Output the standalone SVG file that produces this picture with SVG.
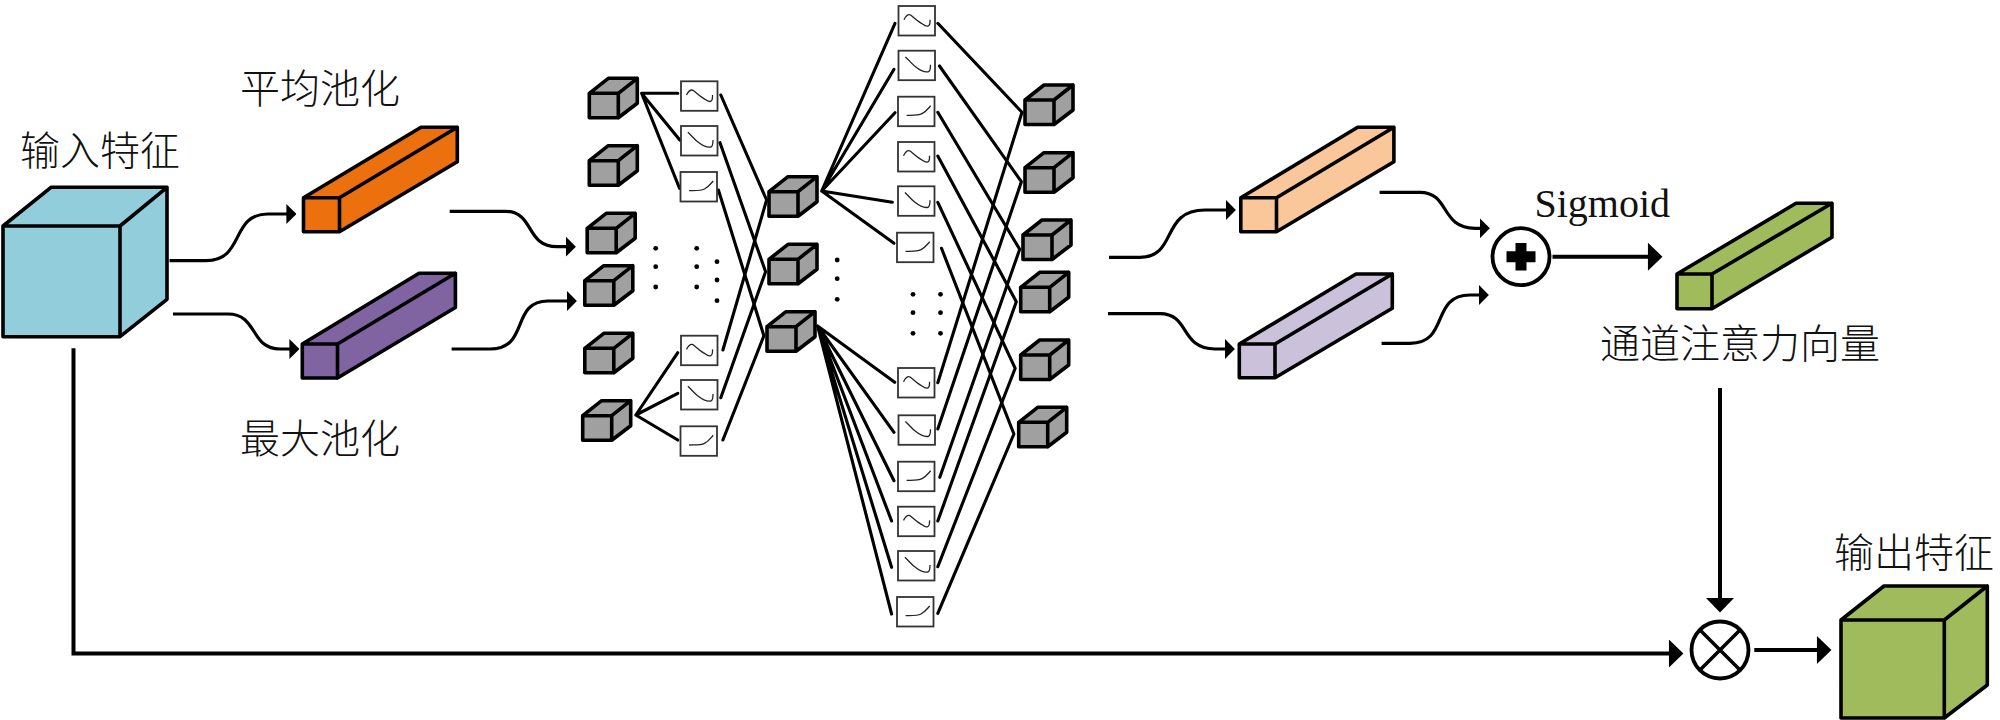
<svg xmlns="http://www.w3.org/2000/svg" width="2000" height="720" viewBox="0 0 2000 720">
<style>
.t{font-family:"Noto Sans CJK SC","Liberation Serif",sans-serif;font-size:40px;font-weight:300;fill:#111}
.s{font-family:"Liberation Serif",serif;font-size:40px;fill:#111}
.n{fill:none;stroke:#000;stroke-width:3.1;stroke-linecap:round;stroke-linejoin:round}
.c{fill:none;stroke:#000;stroke-width:3.2}
.h{fill:none;stroke:#000;stroke-width:4}
.e{stroke:#000;stroke-width:3.6;stroke-linejoin:round}
.b{fill:#fff;stroke:#333;stroke-width:1.8}
.g{fill:none;stroke:#222;stroke-width:1.3}
.d{fill:#000}
</style>
<defs>
<g id="cube"><path class="e" fill="#a0a0a0" d="M0,0H29V24.5H0ZM0,0L19,-15H48L29,0ZM29,0L48,-15V10L29,24.5Z"/></g>
<g id="sA"><rect class="b" width="36.5" height="29.5"/><path class="g" d="M5.5,13.7C8,9 10,8 12,9C16,12 20,16 24,18C28,21 32,22 31.5,13.7"/></g>
<g id="sB"><rect class="b" width="36.5" height="29.5"/><path class="g" d="M6.9,6.3C11,10 14,14 17,16C22,20 26,22 30,21C32,20 32,17 32,14"/></g>
<g id="sC"><rect class="b" width="36.5" height="29.5"/><path class="g" d="M8.6,18.7C14,18.5 20,19 24,17C28,15 30,12 32.7,9"/></g>
<marker id="big" markerUnits="userSpaceOnUse" markerWidth="16" markerHeight="28" viewBox="0 0 14 27" refX="2" refY="13.5" orient="auto"><path d="M0,0L14,13.5L0,27Z"/></marker>
<marker id="small" markerUnits="userSpaceOnUse" markerWidth="10" markerHeight="20" viewBox="0 0 9 18" refX="1" refY="9" orient="auto"><path d="M0,0L9,9L0,18Z"/></marker>
</defs>
<rect width="2000" height="720" fill="#fff"/>

<g id="connectors">
<path class="c" marker-end="url(#small)" d="M169.5,260.7H206C245,260.7 230,214 268,214H287.5"/>
<path class="c" marker-end="url(#small)" d="M173,314H228C258,314 250,349 280,349H290.5"/>
<path class="c" marker-end="url(#small)" d="M449.7,211.3H505C535,211.3 525,246.7 557,246.7H567"/>
<path class="c" marker-end="url(#small)" d="M451.6,349H490C530,349 510,301 548,301H568"/>
<path class="c" marker-end="url(#small)" d="M1109,257.3H1140C1178,257.3 1160,210 1205,210H1227"/>
<path class="c" marker-end="url(#small)" d="M1108,313.7H1160C1190,313.7 1180,349 1215,349H1226"/>
<path class="c" marker-end="url(#small)" d="M1379.6,192.3H1420C1450,192.3 1440,228.3 1475,228.3H1481"/>
<path class="c" marker-end="url(#small)" d="M1381.6,343.3H1410C1450,343.3 1430,295 1470,295H1480"/>
<path class="h" marker-end="url(#big)" d="M73.5,348.3V653.5H1671"/>
<path class="h" marker-end="url(#big)" d="M1552.5,256.7H1650"/>
<path class="h" marker-end="url(#big)" d="M1720,388V600"/>
<path class="h" marker-end="url(#big)" d="M1754.3,650H1819"/>
<g id="net">
<path class="n" d="M677.8,93.3H641.6L679.8,140M641.6,93.3L679.5,188.3"/>
<path class="n" d="M677.8,352.7L635.8,415L677.8,393.3M635.8,415L677.8,440"/>
<path class="n" d="M720.8,95L766.6,200L722.9,350"/>
<path class="n" d="M720,142.7L765.6,271.7L720.8,397.7"/>
<path class="n" d="M718.4,190L763.9,335.7L722.9,440"/>
<path class="n" d="M895,23.3L821.7,191L894,69.3M821.7,191L895,112.7M821.7,191L892.3,202.3M821.7,191L894,243.3"/>
<path class="n" d="M894.7,382.3L817.6,326L894,432.3M817.6,326L894,480.7M817.6,326L891.6,521M817.6,326L891.6,567.3M817.6,326L891.6,614"/>
<path class="n" d="M937.8,23.3L1022,112.3L937.8,382.7"/>
<path class="n" d="M939.5,66L1021.4,181.7L937.8,429"/>
<path class="n" d="M937.8,112.3L1019.7,249.3L939.8,477.3"/>
<path class="n" d="M937.8,156L1016.3,301.7L937.8,521"/>
<path class="n" d="M937.8,202.3L1015.2,368.3L937.8,566.7"/>
<path class="n" d="M941.5,248.3L1013.9,434L937.8,613.3"/>
</g>
</g>

<g id="dots" class="d">
<circle cx="655.7" cy="248.3" r="2.4"/><circle cx="655.7" cy="266.7" r="2.4"/><circle cx="655.7" cy="287" r="2.4"/>
<circle cx="696.7" cy="248.3" r="2.4"/><circle cx="696.7" cy="266.7" r="2.4"/><circle cx="696.7" cy="287" r="2.4"/>
<circle cx="717" cy="261.7" r="2.4"/><circle cx="717" cy="280" r="2.4"/><circle cx="717" cy="300.7" r="2.4"/>
<circle cx="837.2" cy="260" r="2.4"/><circle cx="837.2" cy="278.7" r="2.4"/><circle cx="837.2" cy="299.3" r="2.4"/>
<circle cx="913" cy="294.3" r="2.4"/><circle cx="913" cy="312.7" r="2.4"/><circle cx="913" cy="333.3" r="2.4"/>
<circle cx="940.5" cy="294.3" r="2.4"/><circle cx="940.5" cy="312.7" r="2.4"/><circle cx="940.5" cy="333.3" r="2.4"/>
</g>

<g id="input-feature"><path class="e" fill="#92cddc" d="M3,226H120V336.7H3ZM3,226L51,187.3H167L120,226ZM120,226L167,187.3V299.3L120,336.7Z"/><text class="t" x="20" y="165">输入特征</text></g>
<g id="avg-pool"><path class="e" fill="#ed700f" d="M303.5,197.7H339.5V231.7H303.5ZM303.5,197.7L421,127.3H457.3L339.5,197.7ZM339.5,197.7L457.3,127.3V161.7L339.5,231.7Z"/><text class="t" x="240" y="103">平均池化</text></g>
<g id="max-pool"><path class="e" fill="#8064a2" d="M302.3,344H337.5V378H302.3ZM302.3,344L419,273.3H455.4L337.5,344ZM337.5,344L455.4,273.3V307.5L337.5,378Z"/><text class="t" x="240" y="453">最大池化</text></g>
<g id="peach-bar"><path class="e" fill="#fac79b" d="M1240.8,197.7H1276.5V231.7H1240.8ZM1240.8,197.7L1357.7,127.3H1393.9L1276.5,197.7ZM1276.5,197.7L1393.9,127.3V161.7L1276.5,231.7Z"/></g>
<g id="lavender-bar"><path class="e" fill="#ccc1da" d="M1239.3,344H1275V377.7H1239.3ZM1239.3,344L1356,274H1392.3L1275,344ZM1275,344L1392.3,274V308.3L1275,377.7Z"/></g>
<g id="channel-vector"><path class="e" fill="#9fbb5c" d="M1677,274H1712V308.7H1677ZM1677,274L1796,203.3H1832L1712,274ZM1712,274L1832,203.3V237.3L1712,308.7Z"/><text class="t" x="1600" y="358">通道注意力向量</text></g>
<g id="output-feature"><path class="e" fill="#9fbb5c" d="M1841,620H1944.3V718H1841ZM1841,620L1884,586H1987.3L1944.3,620ZM1944.3,620L1987.3,586V685L1944.3,718Z"/><text class="t" x="1834" y="567">输出特征</text></g>

<g id="add-op"><circle cx="1521" cy="256.7" r="28.5" fill="#fff" stroke="#000" stroke-width="3.8"/><path fill="#000" d="M1515.5,243H1526.5V251.2H1535.5V262.2H1526.5V270.5H1515.5V262.2H1506.5V251.2H1515.5Z"/><text class="s" x="1534.5" y="217">Sigmoid</text></g>
<g id="mul-op"><circle cx="1720" cy="650" r="28.5" fill="#fff" stroke="#000" stroke-width="3.8"/><path d="M1700,630L1740,670M1740,630L1700,670" stroke="#000" stroke-width="3.5"/></g>

<g id="cube-a1"><use href="#cube" x="589.3" y="93.3"/></g>
<g id="cube-a2"><use href="#cube" x="589.3" y="160.7"/></g>
<g id="cube-a3"><use href="#cube" x="587.2" y="228.3"/></g>
<g id="cube-a4"><use href="#cube" x="584.8" y="280.7"/></g>
<g id="cube-a5"><use href="#cube" x="584.8" y="348.3"/></g>
<g id="cube-a6"><use href="#cube" x="582.7" y="415.7"/></g>
<g id="cube-b1"><use href="#cube" x="769" y="191.7"/></g>
<g id="cube-b2"><use href="#cube" x="769" y="259.3"/></g>
<g id="cube-b3"><use href="#cube" x="767" y="326.7"/></g>
<g id="cube-c1"><use href="#cube" x="1025" y="100"/></g>
<g id="cube-c2"><use href="#cube" x="1025" y="167.7"/></g>
<g id="cube-c3"><use href="#cube" x="1023" y="235"/></g>
<g id="cube-c4"><use href="#cube" x="1020.7" y="287.3"/></g>
<g id="cube-c5"><use href="#cube" x="1020.7" y="355"/></g>
<g id="cube-c6"><use href="#cube" x="1018.7" y="422.3"/></g>

<g id="box-l1"><use href="#sA" x="681" y="81.3"/></g>
<g id="box-l2"><use href="#sB" x="681" y="126"/></g>
<g id="box-l3"><use href="#sC" x="680.5" y="172"/></g>
<g id="box-l4"><use href="#sA" x="681" y="335.7"/></g>
<g id="box-l5"><use href="#sB" x="681" y="380"/></g>
<g id="box-l6"><use href="#sC" x="680.5" y="426.3"/></g>
<g id="box-m1"><use href="#sA" x="898.5" y="6"/></g>
<g id="box-m2"><use href="#sB" x="898.5" y="50.7"/></g>
<g id="box-m3"><use href="#sC" x="898" y="96.7"/></g>
<g id="box-m4"><use href="#sA" x="898" y="142"/></g>
<g id="box-m5"><use href="#sB" x="898" y="186.3"/></g>
<g id="box-m6"><use href="#sC" x="897" y="232.7"/></g>
<g id="box-m7"><use href="#sA" x="898" y="368"/></g>
<g id="box-m8"><use href="#sB" x="898.5" y="415.3"/></g>
<g id="box-m9"><use href="#sC" x="898" y="461.7"/></g>
<g id="box-m10"><use href="#sA" x="898" y="506.7"/></g>
<g id="box-m11"><use href="#sB" x="898" y="551"/></g>
<g id="box-m12"><use href="#sC" x="897" y="597"/></g>
</svg>
